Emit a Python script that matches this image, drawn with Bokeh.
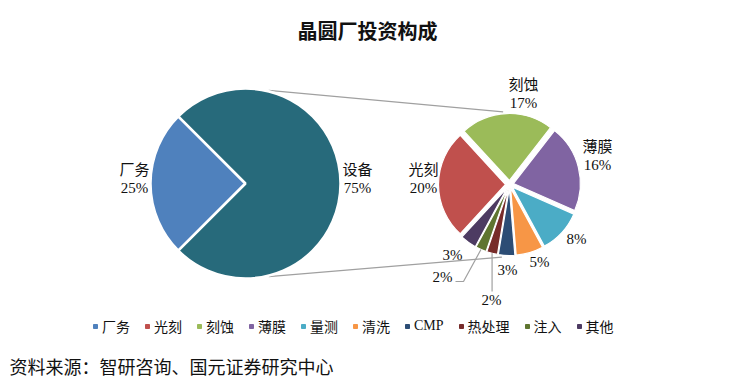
import numpy as np
from bokeh.plotting import figure
from bokeh.models import Range1d, Label, Legend, LegendItem
from bokeh.embed import file_html
from bokeh.resources import INLINE

# ---------------- data ----------------
title_text = "晶圆厂投资构成"
source_text = "资料来源：智研咨询、国元证券研究中心"
main_categories = ["厂务", "设备"]
main_values = [25, 75]
sub_categories = ["光刻", "刻蚀", "薄膜", "量测", "清洗", "CMP", "热处理", "注入", "其他"]
sub_values = [20, 17, 16, 8, 5, 3, 2, 2, 3]

# ---------------- styles / layout ----------------
main_colors = ["#4F81BD", "#276A7B"]
sub_colors = ["#C0504D", "#9BBB59", "#8064A2", "#4BACC6", "#F79646",
              "#2C4D75", "#772C2A", "#5F7530", "#4D3B62"]
LABEL_FONT = "'Liberation Serif', 'Noto Sans CJK SC'"
TEXT_COLOR = "#111111"
LINE_GRAY = "#A0A0A0"

W, H = 741, 384


def Y(yref):
    return H - yref


main_c = (245, Y(183))
main_r = 95
sub_c = (509, Y(184))
sub_r = 67
sub_explode = 4

# label anchors (reference pixel positions, centre of label block)
main_label_xy = [(134, 178), (357, 178)]
sub_label_xy = [(423, 178), (523, 93), (597, 155), (576, 238), (539, 261),
                (507, 269), (491, 299), (442, 276), (452, 254)]
sub_show_name = [True, True, True, False, False, False, False, False, False]


def angles(vals):
    v = np.array(vals, dtype=float)
    frac = v / v.sum()
    cum = np.concatenate([[0.0], np.cumsum(frac)])
    a0 = np.pi + frac[0] * np.pi  # first slice centred on the left
    start_cw = a0 - 2 * np.pi * cum[:-1]
    end_cw = a0 - 2 * np.pi * cum[1:]
    mid = (start_cw + end_cw) / 2
    return start_cw, end_cw, mid


p = figure(width=W, height=H, x_range=Range1d(0, W), y_range=Range1d(0, H),
           output_backend="svg", toolbar_location=None,
           x_axis_type=None, y_axis_type=None, min_border=0)
p.outline_line_color = None
p.background_fill_color = "white"

# connector lines (pie of pie)
conn_main_deg = [76, -76]
conn_sub_deg = [95, -96]
for am, asub in zip(conn_main_deg, conn_sub_deg):
    am, asub = np.deg2rad(am), np.deg2rad(asub)
    R2 = sub_r + sub_explode + 2
    p.line([main_c[0] + (main_r + 1) * np.cos(am), sub_c[0] + R2 * np.cos(asub)],
           [main_c[1] + (main_r + 1) * np.sin(am), sub_c[1] + R2 * np.sin(asub)],
           line_color=LINE_GRAY, line_width=1.2)

# main pie
s, e, m = angles(main_values)
p.wedge(x=[main_c[0]] * 2, y=[main_c[1]] * 2, radius=main_r,
        start_angle=list(e), end_angle=list(s),
        fill_color=main_colors, line_color="white", line_width=2.5)

# sub pie (exploded)
s2, e2, m2 = angles(sub_values)
xs = sub_c[0] + sub_explode * np.cos(m2)
ys = sub_c[1] + sub_explode * np.sin(m2)
p.wedge(x=list(xs), y=list(ys), radius=sub_r,
        start_angle=list(e2), end_angle=list(s2),
        fill_color=sub_colors, line_color="white", line_width=1.2)

# leader lines for the small slices (热处理, 注入)
i_r = sub_categories.index("热处理")
px = sub_c[0] + (sub_r + sub_explode) * np.cos(m2[i_r])
py = sub_c[1] + (sub_r + sub_explode) * np.sin(m2[i_r])
p.line([px, px], [py, Y(sub_label_xy[i_r][1] - 8)], line_color=LINE_GRAY, line_width=1.2)

i_z = sub_categories.index("注入")
px = sub_c[0] + (sub_r + sub_explode) * np.cos(m2[i_z])
py = sub_c[1] + (sub_r + sub_explode) * np.sin(m2[i_z])
lx, ly = sub_label_xy[i_z]
p.line([px, lx + 21, lx + 13], [py, Y(ly + 5), Y(ly + 5)], line_color=LINE_GRAY, line_width=1.2)

# labels
LS = 9
txt_x, txt_y, txt = [], [], []
for (lx, ly), name, v in zip(main_label_xy, main_categories, main_values):
    txt_x += [lx, lx]
    txt_y += [Y(ly - LS), Y(ly + LS)]
    txt += [name, f"{v}%"]
for (lx, ly), name, v, show in zip(sub_label_xy, sub_categories, sub_values, sub_show_name):
    if show:
        txt_x += [lx, lx]
        txt_y += [Y(ly - LS), Y(ly + LS)]
        txt += [name, f"{v}%"]
    else:
        txt_x.append(lx)
        txt_y.append(Y(ly))
        txt.append(f"{v}%")
p.text(x=txt_x, y=txt_y, text=txt, text_align="center", text_baseline="middle",
       text_font_size="15px", text_color=TEXT_COLOR,
       text_font={"value": LABEL_FONT})

# title
p.add_layout(Label(x=367, y=Y(31), text=title_text, text_align="center",
                   text_baseline="middle", text_font_size="20px",
                   text_font_style="bold", text_color=TEXT_COLOR,
                   text_font=LABEL_FONT))
# source
p.add_layout(Label(x=9, y=Y(367), text=source_text, text_align="left",
                   text_baseline="middle", text_font_size="18px",
                   text_color=TEXT_COLOR, text_font=LABEL_FONT))

# legend (proxy renderers with a single non-drawn point)
items = []
for name, col in zip([main_categories[0]] + sub_categories, [main_colors[0]] + sub_colors):
    r = p.scatter(x=[np.nan], y=[np.nan], marker="square", size=5,
                  fill_color=col, line_color=col)
    items.append(LegendItem(label=name, renderers=[r]))
legend = Legend(items=items, orientation="horizontal", location=(90, 48),
                glyph_width=10, glyph_height=10, label_standoff=2, spacing=12,
                padding=0, margin=0, border_line_alpha=0, background_fill_alpha=0,
                label_text_font=LABEL_FONT, label_text_font_size="14px",
                label_height=16, label_text_color=TEXT_COLOR)
p.add_layout(legend, "center")

open("out.html", "w").write(file_html(p, INLINE))
